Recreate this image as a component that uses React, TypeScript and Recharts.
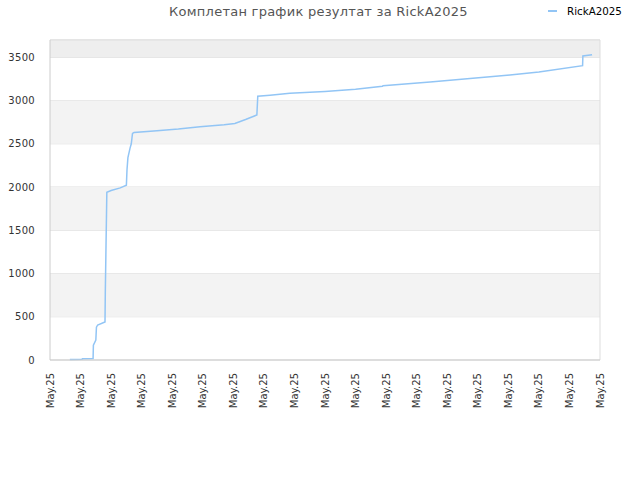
import { CartesianGrid, Line, LineChart, ReferenceArea, ReferenceLine, XAxis, YAxis } from "recharts"

// time position (in tick units) and cumulative score
const xs = [
    0.65, 1.05, 1.06, 1.41, 1.42, 1.5, 1.52, 1.56, 1.8, 1.81, 1.86, 2.0, 2.3, 2.5, 2.52, 2.55, 2.62, 2.66, 2.7, 2.75,
    3.5, 4.2, 4.91, 5.7, 6.05, 6.4, 6.77, 6.8, 7.2, 7.85, 9.0, 10.0, 10.88, 10.9, 12.44, 14.4, 15.05, 16.0, 17.43, 17.44,
    17.74,
]
const scores = [
    5, 8, 15, 17, 170, 230, 380, 405, 440, 780, 1940, 1960, 1990, 2020, 2200, 2340, 2450, 2500, 2620, 2630,
    2650, 2670, 2698, 2720, 2735, 2780, 2833, 3050, 3062, 3084, 3105, 3130, 3165, 3172, 3214, 3276, 3295, 3330, 3403, 3515,
    3530,
]
const tickLabels = Array(19).fill("May.25")
const yTicks = [0, 500, 1000, 1500, 2000, 2500, 3000, 3500]
const bands = [
    [500, 1000],
    [1500, 2000],
    [2500, 3000],
]

const FONT = "'DejaVu Sans', sans-serif"

const data = xs.map((x, i) => ({ x, score: scores[i] }))

function RotatedTick({ x, y, index }: any) {
    return (
        <text
            x={x}
            y={y + 13}
            dy="0.35em"
            transform={`rotate(-90, ${x}, ${y + 13})`}
            textAnchor="end"
            fontSize={10}
            fontFamily={FONT}
            fill="#333"
        >
            {tickLabels[index]}
        </text>
    )
}

export default function App() {
    return (
        <div style={{ position: "absolute", left: 0, top: 0, width: 640, height: 480, background: "#fff", fontFamily: FONT }}>
            <div style={{ position: "absolute", left: 0, width: 637, top: 4, textAlign: "center", fontSize: 13, letterSpacing: 0.25, color: "#555" }}>
                Комплетан график резултат за RickA2025
            </div>
            <div style={{ position: "absolute", left: 548, top: 5, display: "flex", alignItems: "center", fontSize: 10.3, color: "#000" }}>
                <span style={{ display: "inline-block", width: 9, height: 2, background: "#92c5f5", marginRight: 10 }} />
                RickA2025
            </div>
            <LineChart width={640} height={480} data={data} margin={{ top: 40, right: 40, left: 0, bottom: 0 }}>
                {bands.map(([a, b]) => (
                    <ReferenceArea key={a} y1={a} y2={b} fill="#f3f3f3" fillOpacity={1} stroke="none" ifOverflow="hidden" />
                ))}
                <ReferenceArea y1={3500} y2={3700} fill="#eeeeee" fillOpacity={1} stroke="none" />
                <CartesianGrid vertical={false} stroke="#dddddd" strokeDasharray="" />
                <ReferenceLine y={3700} stroke="#dddddd" />
                <ReferenceLine x={18} stroke="#dddddd" />
                <XAxis
                    dataKey="x"
                    type="number"
                    domain={[0, 18]}
                    ticks={tickLabels.map((_, i) => i)}
                    interval={0}
                    height={120}
                    tickLine={false}
                    tickSize={0}
                    tickMargin={0}
                    stroke="#cccccc"
                    tick={<RotatedTick />}
                />
                <YAxis
                    type="number"
                    domain={[0, 3700]}
                    ticks={yTicks}
                    width={50}
                    tickLine={false}
                    tickMargin={9}
                    stroke="#cccccc"
                    tick={{ fontSize: 10, fontFamily: FONT, fill: "#333", letterSpacing: 0.3 }}
                />
                <Line
                    type="linear"
                    dataKey="score"
                    stroke="#92c5f5"
                    strokeWidth={1.5}
                    dot={false}
                    isAnimationActive={false}
                />
            </LineChart>
        </div>
    )
}
